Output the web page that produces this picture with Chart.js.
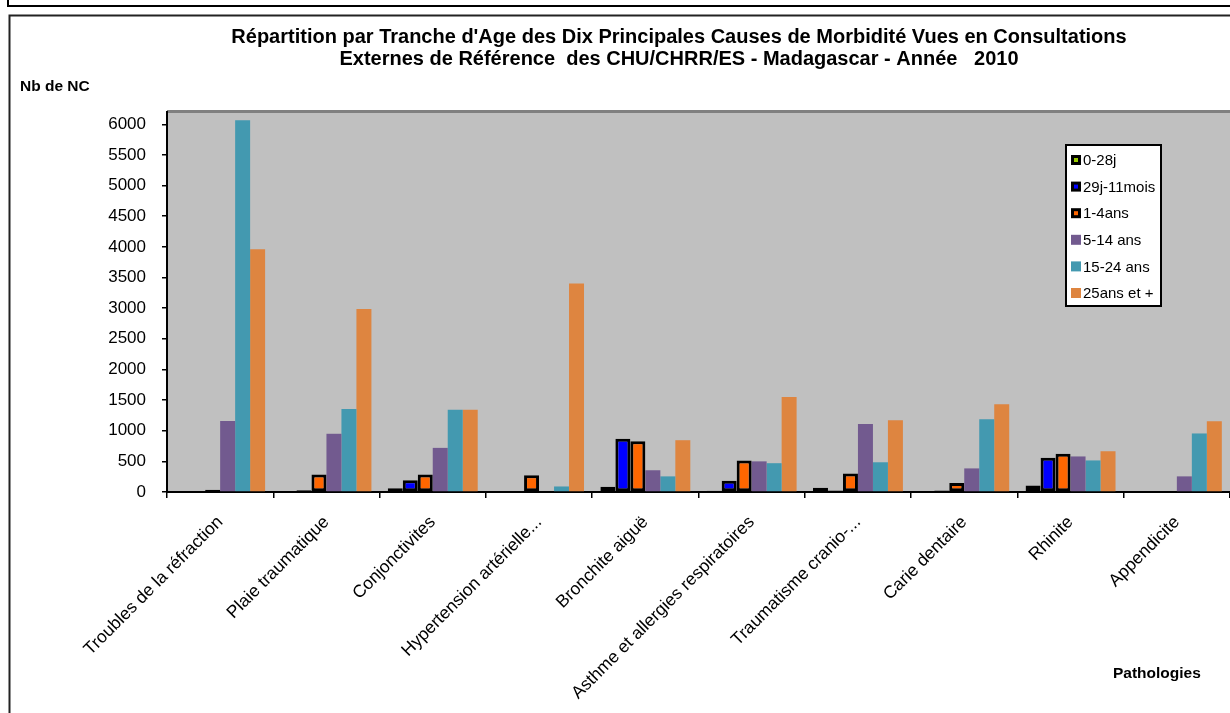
<!DOCTYPE html>
<html>
<head>
<meta charset="utf-8">
<script src="https://cdn.jsdelivr.net/npm/chart.js@4.4.1/dist/chart.umd.min.js"></script>
<style>
  html, body { margin: 0; padding: 0; background: #fff; }
  #wrap { position: relative; width: 1230px; height: 713px; }
</style>
</head>
<body>
<div id="wrap"><canvas id="myChart" width="1230" height="713"></canvas></div>
<script>
// Data
const categories = ['Troubles de la réfraction', 'Plaie traumatique', 'Conjonctivites', 'Hypertension artérielle...', 'Bronchite aiguë', 'Asthme et allergies respiratoires', 'Traumatisme cranio-...', 'Carie dentaire', 'Rhinite', 'Appendicite'];
const seriesNames = ['0-28j', '29j-11mois', '1-4ans', '5-14 ans', '15-24 ans', '25ans et +'];
const age0_28j = [0, 5, 60, 0, 85, 20, 70, 0, 105, 0];
const age29j_11mois = [0, 30, 190, 0, 870, 185, 25, 25, 560, 0];
const age1_4ans = [35, 285, 285, 275, 830, 515, 300, 145, 625, 10];
const age5_14ans = [1160, 950, 720, 0, 355, 500, 1110, 385, 580, 255];
const age15_24ans = [6065, 1355, 1340, 90, 255, 470, 485, 1185, 515, 955];
const age25plus = [3960, 2985, 1340, 3400, 845, 1550, 1170, 1430, 665, 1155];
const yTicks = [0, 500, 1000, 1500, 2000, 2500, 3000, 3500, 4000, 4500, 5000, 5500, 6000];
const titleLines = ["Répartition par Tranche d'Age des Dix Principales Causes de Morbidité Vues en Consultations", 'Externes de Référence  des CHU/CHRR/ES - Madagascar - Année   2010'];

const font = '"Liberation Sans", Arial, sans-serif';
Chart.defaults.font.family = font;
Chart.defaults.color = '#000';

// colours of the six age groups
const colors = ['#99CC00', '#0000FF', '#FF6600', '#725A8F', '#4399B0', '#DE8540'];
const values = [age0_28j, age29j_11mois, age1_4ans, age5_14ans, age15_24ans, age25plus];

const datasets = seriesNames.map((name, i) => ({
  label: name,
  data: values[i],
  backgroundColor: colors[i],
  borderColor: '#000',
  borderWidth: i < 3 ? 3 : 0, // the first three groups have a thick black outline
  borderSkipped: false,
  categoryPercentage: 0.846,
  barPercentage: 1.0
}));

// grey plot background, frames, titles and the legend box
const decor = {
  id: 'decor',
  beforeDraw(chart) {
    const { ctx, chartArea: a } = chart;
    ctx.save();
    ctx.fillStyle = '#fff';
    ctx.fillRect(0, 0, chart.width, chart.height);
    // outer frames
    ctx.strokeStyle = '#000';
    ctx.lineWidth = 2;
    ctx.beginPath();
    ctx.moveTo(8, 0); ctx.lineTo(8, 6); ctx.lineTo(1232, 6);
    ctx.stroke();
    ctx.strokeStyle = '#222';
    ctx.strokeRect(9.5, 15.5, 1240, 720);
    // plot area
    ctx.fillStyle = '#C0C0C0';
    ctx.fillRect(a.left, a.top, a.right - a.left, a.bottom - a.top);
    ctx.fillStyle = '#808080';
    ctx.fillRect(a.left, a.top - 2, a.right - a.left, 3);
    ctx.restore();
  },
  afterDraw(chart) {
    const { ctx } = chart;
    ctx.save();
    ctx.fillStyle = '#000';
    ctx.textBaseline = 'middle';
    ctx.textAlign = 'center';
    ctx.font = 'bold 20px ' + font;
    ctx.fillText(titleLines[0], 679, 37);
    ctx.fillText(titleLines[1], 679, 59);
    ctx.textAlign = 'left';
    ctx.font = 'bold 15.5px ' + font;
    ctx.fillText('Nb de NC', 20, 87);
    ctx.fillText('Pathologies', 1113, 674);

    // legend inside the plot
    const lx = 1066, ly = 145, lw = 95, lh = 161;
    ctx.fillStyle = '#fff';
    ctx.fillRect(lx, ly, lw, lh);
    ctx.strokeStyle = '#000';
    ctx.lineWidth = 2;
    ctx.strokeRect(lx, ly, lw, lh);
    ctx.font = '15px ' + font;
    chart.data.datasets.forEach((ds, i) => {
      const y = 160 + i * 26.6;
      if (ds.borderWidth > 0) {
        ctx.fillStyle = '#000';
        ctx.fillRect(1071, y - 5, 10, 10);
        ctx.fillStyle = ds.backgroundColor;
        ctx.fillRect(1074, y - 2, 4, 4);
      } else {
        ctx.fillStyle = ds.backgroundColor;
        ctx.fillRect(1071, y - 5, 10, 10);
      }
      ctx.fillStyle = '#000';
      ctx.fillText(ds.label, 1083, y + 1);
    });
    ctx.restore();
  }
};

const myChart = new Chart(document.getElementById('myChart'), {
  type: 'bar',
  data: {
    labels: categories,
    datasets: datasets
  },
  options: {
    responsive: false,
    animation: false,
    layout: { padding: { top: 112, right: 0, bottom: 0, left: 0 } },
    plugins: {
      legend: { display: false },
      title: { display: false },
      tooltip: { enabled: false }
    },
    scales: {
      x: {
        grid: { offset: true, drawOnChartArea: false, tickLength: 6, color: '#000', lineWidth: 1.5 },
        border: { color: '#000', width: 2 },
        ticks: { autoSkip: false, maxRotation: 45, minRotation: 45, font: { size: 17.5 }, color: '#000', padding: 14 },
        afterFit(scale) { scale.height = 221; }
      },
      y: {
        min: 0,
        max: 6200,
        grid: { drawOnChartArea: false, tickLength: 5, color: '#000', lineWidth: 1.5 },
        border: { color: '#000', width: 2 },
        ticks: { stepSize: 500, font: { size: 17 }, color: '#000', padding: 16, callback: v => String(v) },
        afterBuildTicks(scale) { scale.ticks = yTicks.map(v => ({ value: v })); },
        afterFit(scale) { scale.width = 167; }
      }
    }
  },
  plugins: [decor]
});
</script>
</body>
</html>
